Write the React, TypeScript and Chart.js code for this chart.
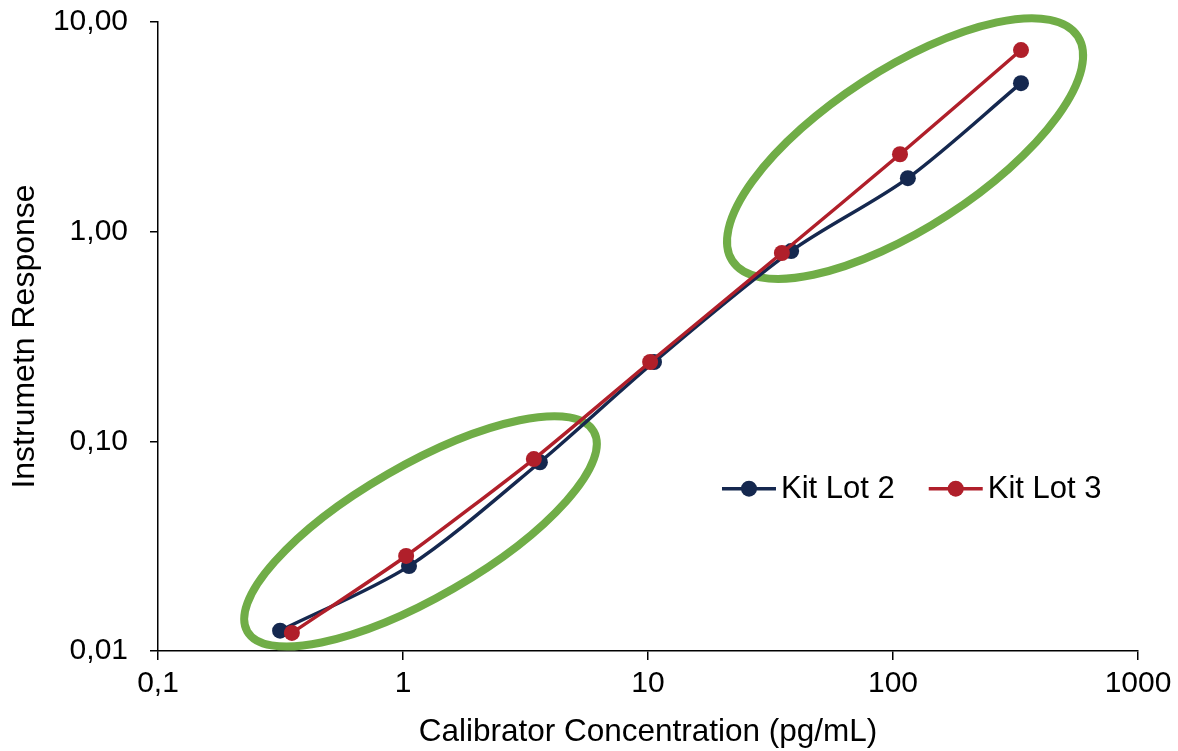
import React, { useEffect, useRef } from "react";
import { Chart, registerables } from "chart.js";

Chart.register(...registerables);

// Data
const lot2X = [0.315, 1.058, 3.62, 10.58, 38.4, 115, 333];
const lot2Y = [0.0125, 0.0254, 0.0795, 0.239, 0.808, 1.8, 5.11];
const lot3X = [0.352, 1.03, 3.42, 10.2, 35.2, 106.8, 333];
const lot3Y = [0.0122, 0.0284, 0.0823, 0.239, 0.791, 2.34, 7.35];
const xTicks = [0.1, 1, 10, 100, 1000];
const yTicks = [0.01, 0.1, 1, 10];
const seriesNames = ["Kit Lot 2", "Kit Lot 3"];

// Annotation ellipses: centre in data units, semi-axes in px, tilt in degrees
const ellipseCentreX = [1.179, 112];
const ellipseCentreY = [0.0372, 2.49];
const ellipseA = [200, 206];
const ellipseB = [66, 79];
const ellipseTilt = [30, 33];

const NAVY = "#15284F";
const RED = "#B01F2A";
const GREEN = "#70AD47";
const FONT = "'Liberation Sans', Arial, sans-serif";

const fmtX = (v: number) => (v < 1 ? String(v).replace(".", ",") : String(v));
const fmtY = (v: number) => v.toFixed(2).replace(".", ",");

const ellipsePlugin = {
  id: "ellipses",
  beforeDatasetsDraw(chart: any) {
    const { ctx, scales } = chart;
    ctx.save();
    ctx.strokeStyle = GREEN;
    ctx.lineWidth = 8;
    for (let i = 0; i < ellipseCentreX.length; i++) {
      const cx = scales.x.getPixelForValue(ellipseCentreX[i]);
      const cy = scales.y.getPixelForValue(ellipseCentreY[i]);
      ctx.beginPath();
      ctx.ellipse(cx, cy, ellipseA[i], ellipseB[i], (-ellipseTilt[i] * Math.PI) / 180, 0, Math.PI * 2);
      ctx.stroke();
    }
    ctx.restore();
  },
};

const legendPlugin = {
  id: "innerLegend",
  afterDatasetsDraw(chart: any) {
    const { ctx, chartArea } = chart;
    const w = chartArea.right - chartArea.left;
    const h = chartArea.bottom - chartArea.top;
    let x = chartArea.left + w * 0.5755;
    const y = chartArea.top + h * 0.742;
    const colors = [NAVY, RED];
    ctx.save();
    ctx.font = `31px ${FONT}`;
    ctx.textBaseline = "middle";
    for (let i = 0; i < seriesNames.length; i++) {
      ctx.strokeStyle = colors[i];
      ctx.lineWidth = 3.5;
      ctx.beginPath();
      ctx.moveTo(x, y);
      ctx.lineTo(x + 54, y);
      ctx.stroke();
      ctx.fillStyle = colors[i];
      ctx.beginPath();
      ctx.arc(x + 27, y, 8, 0, Math.PI * 2);
      ctx.fill();
      ctx.fillStyle = "#000";
      ctx.fillText(seriesNames[i], x + 59, y + 1);
      const tw = ctx.measureText(seriesNames[i]).width;
      x += 59 + tw + 34;
    }
    ctx.restore();
  },
};

export default function App() {
  const ref = useRef<HTMLCanvasElement>(null);
  useEffect(() => {
    document.body.style.margin = "0";
    const toPts = (xs: number[], ys: number[]) => xs.map((x, i) => ({ x, y: ys[i] }));
    const chart = new Chart(ref.current!, {
      type: "line",
      data: {
        datasets: [
          {
            label: seriesNames[0],
            data: toPts(lot2X, lot2Y),
            borderColor: NAVY,
            backgroundColor: NAVY,
            borderWidth: 3.5,
            pointRadius: 8,
            pointBorderWidth: 0,
            tension: 0.3,
            order: 1,
          },
          {
            label: seriesNames[1],
            data: toPts(lot3X, lot3Y),
            borderColor: RED,
            backgroundColor: RED,
            borderWidth: 3.5,
            pointRadius: 8,
            pointBorderWidth: 0,
            tension: 0.2,
            order: 0,
          },
        ],
      },
      options: {
        animation: false,
        responsive: false,
        maintainAspectRatio: false,
        layout: { padding: { top: 22, right: 40, left: 0, bottom: 0 } },
        plugins: { legend: { display: false }, tooltip: { enabled: false } },
        scales: {
          x: {
            type: "logarithmic",
            min: 0.1,
            max: 1000,
            afterBuildTicks: (s: any) => {
              s.ticks = xTicks.map((v) => ({ value: v }));
            },
            afterFit: (s: any) => {
              s.height = 100;
              s.paddingLeft = 0;
              s.paddingRight = 0;
            },
            ticks: {
              callback: (v: any) => fmtX(Number(v)),
              font: { family: FONT, size: 30 },
              color: "#000",
              padding: 6,
              maxRotation: 0,
              autoSkip: false,
            },
            grid: { display: true, drawOnChartArea: false, drawTicks: true, tickLength: 9, color: "#000", lineWidth: 1.5 },
            border: { display: true, color: "#000", width: 1.5 },
            title: {
              display: true,
              text: "Calibrator Concentration (pg/mL)",
              font: { family: FONT, size: 31.5 },
              color: "#000",
              padding: { top: 3, bottom: 0 },
            },
          },
          y: {
            type: "logarithmic",
            min: 0.01,
            max: 10,
            afterBuildTicks: (s: any) => {
              s.ticks = yTicks.map((v) => ({ value: v }));
            },
            afterFit: (s: any) => {
              s.width = 158;
              s.paddingTop = 0;
              s.paddingBottom = 0;
            },
            ticks: {
              callback: (v: any) => fmtY(Number(v)),
              font: { family: FONT, size: 30 },
              color: "#000",
              padding: 22,
              autoSkip: false,
            },
            grid: { display: true, drawOnChartArea: false, drawTicks: true, tickLength: 8, color: "#000", lineWidth: 1.5 },
            border: { display: true, color: "#000", width: 1.5 },
            title: {
              display: true,
              text: "Instrumetn Response",
              font: { family: FONT, size: 32 },
              color: "#000",
              padding: { top: 6, bottom: 0 },
            },
          },
        },
      },
      plugins: [ellipsePlugin, legendPlugin],
    } as any);
    return () => chart.destroy();
  }, []);
  return (
    <div style={{ width: 1178, height: 751, background: "#fff" }}>
      <canvas ref={ref} width={1178} height={751} style={{ display: "block" }} />
    </div>
  );
}
